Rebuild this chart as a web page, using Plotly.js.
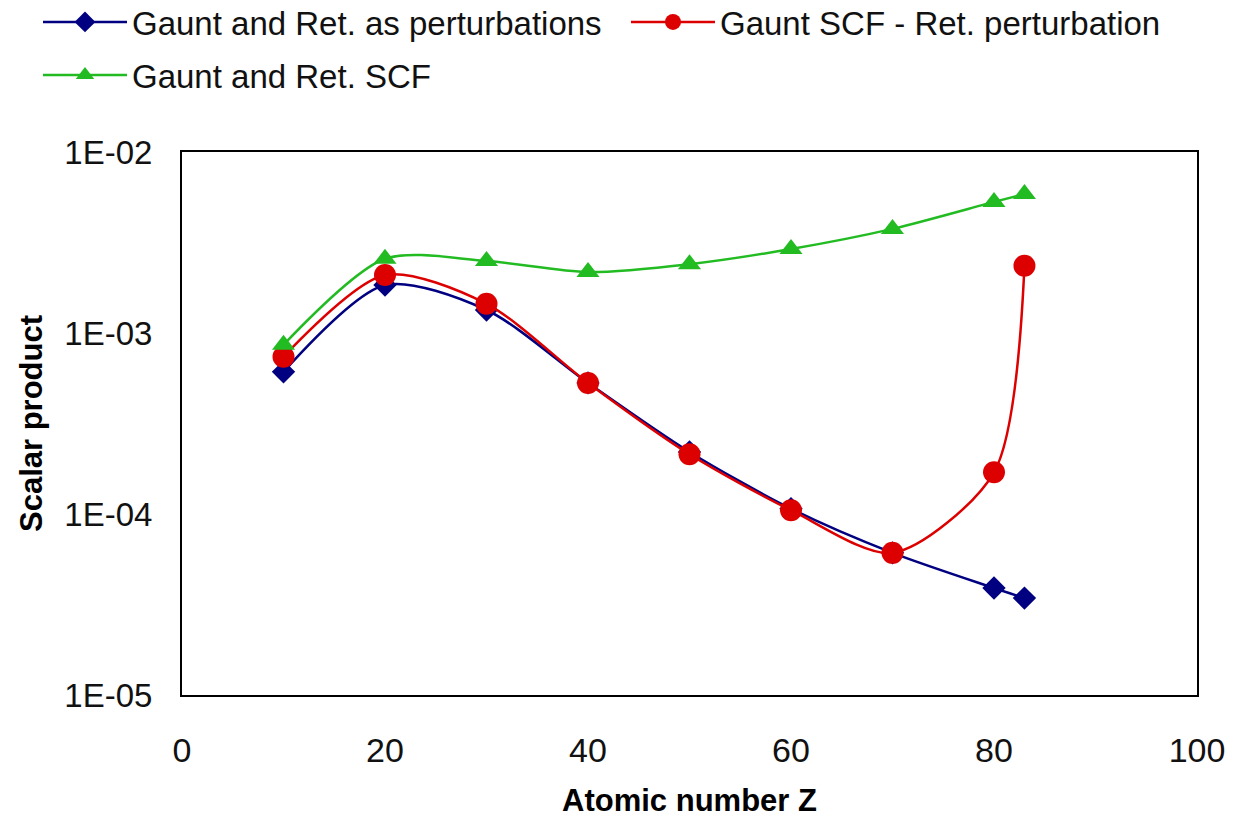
<!DOCTYPE html>
<html>
<head>
<meta charset="utf-8">
<script src="https://cdn.plot.ly/plotly-3.0.1.min.js"></script>
<style>
  html, body { margin: 0; padding: 0; background: #fff; }
  #chart { width: 1242px; height: 820px; }
</style>
</head>
<body>
<div id="chart"></div>
<script>
// Atomic number Z of the computed systems
const atomicNumber = [10, 20, 30, 40, 50, 60, 70, 80, 83];

// Scalar product for each treatment of the Gaunt and retardation terms
const perturbative = [6.1e-4, 1.84e-3, 1.34e-3, 5.3e-4, 2.2e-4, 1.07e-4, 6.1e-5, 3.9e-5, 3.43e-5];
const gauntScfRetPert = [7.4e-4, 2.09e-3, 1.45e-3, 5.3e-4, 2.14e-4, 1.05e-4, 6.1e-5, 1.7e-4, 2.35e-3];
const gauntRetScf = [8.6e-4, 2.57e-3, 2.5e-3, 2.17e-3, 2.4e-3, 2.91e-3, 3.76e-3, 5.3e-3, 5.86e-3];

// Log axis ticks
const yTickVals = [1e-5, 1e-4, 1e-3, 1e-2];
const yTickText = ['1E-05', '1E-04', '1E-03', '1E-02'];
const xTickVals = [0, 20, 40, 60, 80, 100];

const font = 'Liberation Sans, Arial, Helvetica, sans-serif';
const ink = '#111';

const traces = [
  {
    x: atomicNumber, y: perturbative,
    name: 'Gaunt and Ret. as perturbations',
    mode: 'lines+markers',
    legend: 'legend',
    line: { color: '#000080', width: 2.5, shape: 'spline', smoothing: 0.8 },
    marker: { symbol: 'diamond', size: 18, color: '#000080' }
  },
  {
    x: atomicNumber, y: gauntScfRetPert,
    name: 'Gaunt SCF - Ret. perturbation',
    mode: 'lines+markers',
    legend: 'legend3',
    line: { color: '#dd0000', width: 2.5, shape: 'spline', smoothing: 0.8 },
    marker: { symbol: 'circle', size: 22, color: '#dd0000' }
  },
  {
    x: atomicNumber, y: gauntRetScf,
    name: 'Gaunt and Ret. SCF',
    mode: 'lines+markers',
    legend: 'legend2',
    line: { color: '#22bb22', width: 2.5, shape: 'spline', smoothing: 0.8 },
    marker: { symbol: 'triangle-up', size: 20, color: '#22bb22' }
  }
];

// One single-entry legend per series, laid out as two rows at the top of the page
const legendBase = {
  orientation: 'h',
  xref: 'container', yref: 'container',
  xanchor: 'left', yanchor: 'middle',
  font: { family: font, size: 33, color: ink },
  itemwidth: 84,
  bgcolor: 'rgba(0,0,0,0)'
};

const layout = {
  width: 1242, height: 820,
  paper_bgcolor: '#ffffff', plot_bgcolor: '#ffffff',
  margin: { l: 182, r: 45, t: 152, b: 125, pad: 0 },
  font: { family: font, size: 31, color: ink },
  showlegend: true,
  legend: Object.assign({}, legendBase, { x: 38 / 1242, y: 1 - 22 / 820 }),
  legend3: Object.assign({}, legendBase, { x: 626 / 1242, y: 1 - 22 / 820 }),
  legend2: Object.assign({}, legendBase, { x: 38 / 1242, y: 1 - 75 / 820 }),
  xaxis: {
    range: [0, 100],
    tickvals: xTickVals,
    ticks: '', showgrid: false, zeroline: false,
    showline: true, linecolor: '#000', linewidth: 2, mirror: true,
    ticklabelstandoff: 24,
    tickfont: { family: font, size: 34, color: ink },
    title: { text: 'Atomic number Z', font: { family: font, size: 31, color: '#000', weight: 'bold' }, standoff: 22 }
  },
  yaxis: {
    type: 'log',
    range: [-5, -2],
    tickvals: yTickVals, ticktext: yTickText,
    ticks: '', showgrid: false, zeroline: false,
    showline: true, linecolor: '#000', linewidth: 2, mirror: true,
    ticklabelstandoff: 21,
    tickfont: { family: font, size: 33, color: ink },
    title: { text: 'Scalar product', font: { family: font, size: 31, color: '#000', weight: 'bold' }, standoff: 12 }
  }
};

Plotly.newPlot('chart', traces, layout, { displayModeBar: false, staticPlot: true });
</script>
</body>
</html>
